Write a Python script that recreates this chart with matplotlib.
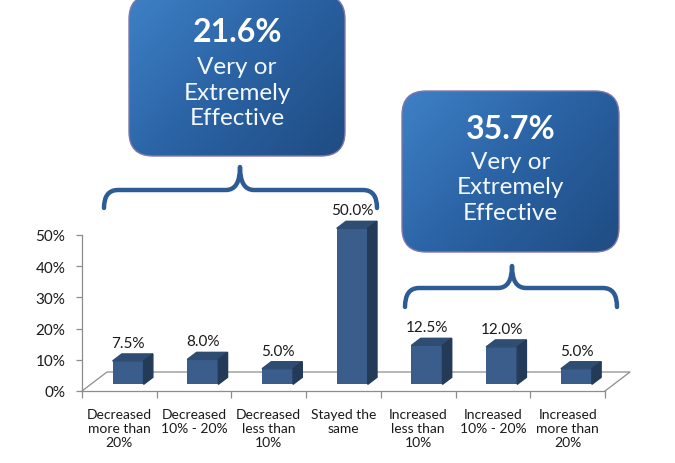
import numpy as np
import matplotlib
matplotlib.use("Agg")
import matplotlib.pyplot as plt
from matplotlib.patches import Polygon, FancyBboxPatch, PathPatch
from matplotlib.path import Path
from matplotlib.colors import LinearSegmentedColormap

# Data
categories = ["Decreased\nmore than\n20%", "Decreased\n10% - 20%", "Decreased\nless than\n10%",
              "Stayed the\nsame", "Increased\nless than\n10%", "Increased\n10% - 20%",
              "Increased\nmore than\n20%"]
values = [7.5, 8.0, 5.0, 50.0, 12.5, 12.0, 5.0]
yticks = [0, 10, 20, 30, 40, 50]
callout_pct = ["21.6%", "35.7%"]
callout_label = "Very or\nExtremely\nEffective"

plt.rcParams['font.family'] = ['Lato', 'DejaVu Sans']

W, H = 675, 464
fig = plt.figure(figsize=(W / 100, H / 100), dpi=100)

# plot area in pixels (front floor line and 50% level)
x0, x1 = 82, 605
y0, y50 = 392, 236
ax = fig.add_axes([x0 / W, (H - y0) / H, (x1 - x0) / W, (y0 - y50) / H])
n = len(values)
ax.set_xlim(-0.5, n - 0.5)
ax.set_ylim(0, 50)

px_x = (x1 - x0) / n          # pixels per category
px_y = (y0 - y50) / 50.0      # pixels per percent
ddx = 25 / px_x               # floor depth in data units
ddy = 19 / px_y
f1, f2 = 0.35, 0.72           # bar front / back depth fraction
bw = 31 / px_x

front_c = "#3a5d8b"
top_c = "#2f4c72"
side_c = "#233a58"
grid_c = "#8c8c8c"

# floor
ax.plot([-0.5, -0.5 + ddx, n - 0.5 + ddx, n - 0.5], [0, ddy, ddy, 0],
        color=grid_c, lw=0.9, clip_on=False, zorder=1)

for i, v in enumerate(values):
    xs = i + f1 * ddx
    yb = f1 * ddy
    bdx, bdy = (f2 - f1) * ddx, (f2 - f1) * ddy
    ax.bar(xs, v, bw, bottom=yb, color=front_c, clip_on=False, zorder=3)
    xl, xr, yt = xs - bw / 2, xs + bw / 2, v + yb
    ax.add_patch(Polygon([(xl, yt), (xr, yt), (xr + bdx, yt + bdy), (xl + bdx, yt + bdy)],
                         closed=True, color=top_c, clip_on=False, zorder=3))
    ax.add_patch(Polygon([(xr, yb), (xr + bdx, yb + bdy), (xr + bdx, yt + bdy), (xr, yt)],
                         closed=True, color=side_c, clip_on=False, zorder=3))
    ax.text(xs, yt + bdy + 11 / px_y, f"{v:.1f}%", ha="center", va="center",
            fontsize=11, color="#1a1a1a", zorder=4)

for s in ["top", "right"]:
    ax.spines[s].set_visible(False)
for s in ["left", "bottom"]:
    ax.spines[s].set_color(grid_c)
    ax.spines[s].set_linewidth(0.9)
ax.patch.set_alpha(0)

ax.set_yticks(yticks)
ax.set_yticklabels([f"{t}%" for t in yticks])
ax.tick_params(axis="y", length=4, width=0.9, color=grid_c, pad=8, labelsize=11, labelcolor="#1a1a1a")
ax.set_xticks(range(n))
ax.set_xticklabels(categories, linespacing=1.2)
ax.set_xticks(np.arange(-0.5, n), minor=True)
ax.tick_params(axis="x", which="major", length=0, pad=12, labelsize=10, labelcolor="#1a1a1a")
ax.tick_params(axis="x", which="minor", length=5, width=0.9, color=grid_c)

# overlay in pixel coordinates for callouts and braces
ov = fig.add_axes([0, 0, 1, 1])
ov.set_xlim(0, W)
ov.set_ylim(H, 0)
ov.axis("off")
ov.patch.set_alpha(0)

cmap = LinearSegmentedColormap.from_list("box", ["#3e80c6", "#2a62a3", "#1f4c82"])
brace_c = "#2d5b96"


def callout(x, y, w, h, pct, pct_y, label_y):
    box = FancyBboxPatch((x, y), w, h, boxstyle="round,pad=0,rounding_size=24",
                         facecolor="none", edgecolor="#8078aa", lw=1.0, zorder=5)
    ov.add_patch(box)
    gy, gx = np.mgrid[0:1:100j, 0:1:100j]
    im = ov.imshow((gx * 0.6 + gy * 0.4), cmap=cmap, extent=(x, x + w, y + h, y),
                   origin="upper", aspect="auto", zorder=4)
    im.set_clip_path(box)
    cx = x + w / 2
    ov.text(cx, pct_y, pct, ha="center", va="center", color="white",
            fontsize=23, fontweight="bold", zorder=6)
    ov.text(cx, label_y, callout_label, ha="center", va="center", color="#f4f8fc",
            fontsize=17.5, linespacing=1.28, zorder=6)


def brace(xa, xb, xc, y_tip, y_line, y_peak, r=14):
    verts = [(xa, y_tip), (xa, y_line), (xa + r, y_line),
             (xc - r, y_line), (xc, y_line), (xc, y_peak),
             (xc, y_line), (xc + r, y_line),
             (xb - r, y_line), (xb, y_line), (xb, y_tip)]
    codes = [Path.MOVETO, Path.CURVE3, Path.CURVE3,
             Path.LINETO, Path.CURVE3, Path.CURVE3,
             Path.CURVE3, Path.CURVE3,
             Path.LINETO, Path.CURVE3, Path.CURVE3]
    ov.add_patch(PathPatch(Path(verts, codes), facecolor="none", edgecolor=brace_c,
                           lw=3.2, capstyle="round", joinstyle="round", zorder=5))


# left callout
callout(129, -4, 216, 161, callout_pct[0], 33, 93)
brace(104, 377, 240, 209, 191, 168)

# right callout
callout(402, 92, 217, 161, callout_pct[1], 130, 188)
brace(405, 617, 512, 308, 289, 267)

fig.savefig("out.png", dpi=100)
